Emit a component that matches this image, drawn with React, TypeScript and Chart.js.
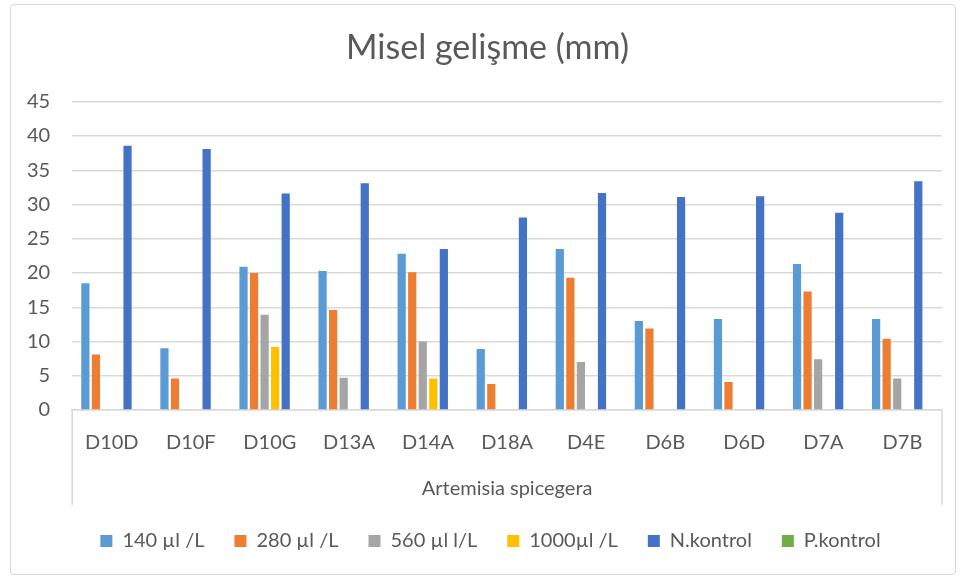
import React, { useEffect, useRef } from "react";
import { Chart, registerables } from "chart.js";

Chart.register(...registerables);

const categories = ["D10D", "D10F", "D10G", "D13A", "D14A", "D18A", "D4E", "D6B", "D6D", "D7A", "D7B"];
const s140 = [18.5, 9.0, 20.9, 20.3, 22.8, 8.9, 23.5, 13.0, 13.3, 21.3, 13.3];
const s280 = [8.1, 4.6, 20.0, 14.6, 20.1, 3.8, 19.3, 11.9, 4.1, 17.3, 10.4];
const s560 = [0, 0, 13.9, 4.7, 10.0, 0, 7.0, 0, 0, 7.4, 4.6];
const s1000 = [0, 0, 9.2, 0, 4.6, 0, 0, 0, 0, 0, 0];
const nKontrol = [38.6, 38.1, 31.6, 33.1, 23.5, 28.1, 31.7, 31.1, 31.2, 28.8, 33.4];
const pKontrol = [0, 0, 0, 0, 0, 0, 0, 0, 0, 0, 0];
const seriesNames = ["140 µl /L", "280 µl /L", "560 µl l/L", "1000µl /L", "N.kontrol", "P.kontrol"];
const yTicks = { min: 0, max: 45, step: 5 };
const title = "Misel gelişme (mm)";
const xTitle = "Artemisia spicegera";

const FONT = "Lato, 'Noto Sans', sans-serif";
const TEXT = "#595959";
const GRID = "#d9d9d9";

export default function App() {
  const ref = useRef<HTMLCanvasElement | null>(null);
  useEffect(() => {
    if (!ref.current) return;
    const edgeLines = {
      id: "edgeLines",
      afterLayout(chart: any) {
        const lg = chart.legend;
        if (lg) {
          lg.left += 17;
          lg.right += 17;
        }
        const tb = chart.titleBlock;
        if (tb) {
          tb.left += 14;
          tb.right += 14;
        }
      },
      afterDraw(chart: any) {
        const { ctx, chartArea } = chart;
        const xs = chart.scales.x;
        ctx.save();
        ctx.strokeStyle = GRID;
        ctx.lineWidth = 1.5;
        ctx.beginPath();
        ctx.moveTo(chartArea.left, chartArea.bottom);
        ctx.lineTo(chartArea.left, xs.bottom + 4);
        ctx.moveTo(chartArea.right, chartArea.bottom);
        ctx.lineTo(chartArea.right, xs.bottom + 4);
        ctx.stroke();
        ctx.restore();
      },
    };
    const colors = ["#5B9BD5", "#ED7D31", "#A5A5A5", "#FFC000", "#4472C4", "#70AD47"];
    const values = [s140, s280, s560, s1000, nKontrol, pKontrol];
    const chart = new Chart(ref.current, {
      type: "bar",
      data: {
        labels: categories,
        datasets: values.map((v, i) => ({
          label: seriesNames[i],
          data: v,
          backgroundColor: colors[i],
          borderWidth: 0,
          categoryPercentage: 0.8,
          barPercentage: 0.78,
        })),
      },
      options: {
        animation: false,
        responsive: false,
        maintainAspectRatio: false,
        layout: { padding: { left: 5, right: 24, top: 0, bottom: 20 } },
        plugins: {
          title: {
            display: true,
            text: title,
            color: TEXT,
            font: { family: FONT, size: 34, weight: "normal" },
            padding: { top: 28, bottom: 33 },
          },
          legend: {
            position: "bottom",
            labels: {
              color: TEXT,
              font: { family: FONT, size: 20 },
              boxWidth: 12,
              boxHeight: 12,
              padding: 30,
            },
          },
          tooltip: { enabled: false },
        },
        scales: {
          x: {
            grid: { display: false },
            border: { display: true, color: GRID, width: 1.5 },
            ticks: { color: TEXT, font: { family: FONT, size: 20 }, padding: 13 },
            title: {
              display: true,
              text: xTitle,
              color: TEXT,
              font: { family: FONT, size: 20 },
              padding: { top: 9, bottom: 0 },
            },
          },
          y: {
            min: yTicks.min,
            max: yTicks.max,
            grid: { color: GRID, lineWidth: 1.5, drawTicks: false },
            border: { display: false },
            ticks: {
              stepSize: yTicks.step,
              color: TEXT,
              font: { family: FONT, size: 20 },
              padding: 22,
            },
          },
        },
      },
      plugins: [edgeLines],
    });
    return () => chart.destroy();
  }, []);
  return (
    <div style={{ position: "fixed", left: 0, top: 0, width: 966, height: 581, background: "#fff" }}>
      <div
        style={{
          position: "absolute",
          left: 10,
          top: 4,
          width: 946,
          height: 571,
          border: "1px solid #d9d9d9",
          borderRadius: 4,
          boxSizing: "border-box",
        }}
      />
      <canvas ref={ref} width={966} height={581} style={{ position: "absolute", left: 0, top: 0 }} />
    </div>
  );
}
